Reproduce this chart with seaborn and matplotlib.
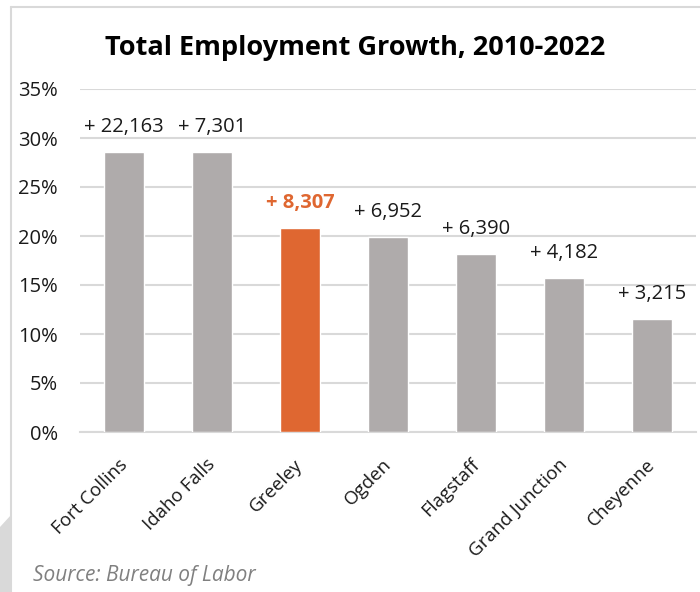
import matplotlib
matplotlib.use("Agg")
import matplotlib.pyplot as plt
import matplotlib.patches as mpatches
import matplotlib.lines as mlines
import matplotlib.transforms as mtransforms
import seaborn as sns
import pandas as pd

# Employment growth 2010-2022 by metro area
cities = ["Fort Collins", "Idaho Falls", "Greeley", "Ogden",
          "Flagstaff", "Grand Junction", "Cheyenne"]
growth_pct = [0.286, 0.286, 0.208, 0.199, 0.182, 0.157, 0.115]
jobs_added = [22163, 7301, 8307, 6952, 6390, 4182, 3215]
highlight = "Greeley"

GRAY = "#AFABAB"
ORANGE = "#DF6731"
GRID = "#D9D9D9"
FONT = "Open Sans"

df = pd.DataFrame({"city": cities, "growth": growth_pct, "jobs": jobs_added})
palette = {c: (ORANGE if c == highlight else GRAY) for c in cities}

sns.set_theme(style="white")
plt.rcParams["font.family"] = [FONT, "DejaVu Sans"]

fig = plt.figure(figsize=(7.0, 5.92), dpi=100)
ax = fig.add_axes([80 / 700, 1 - 432 / 592, 616 / 700, 343 / 592])

sns.barplot(data=df, x="city", y="growth", hue="city", palette=palette,
            legend=False, width=0.455, saturation=1, ax=ax, zorder=3)

ax.set_ylim(0, 0.35)
ax.set_xlim(-0.5, len(cities) - 0.5)
ax.set_yticks([i * 0.05 for i in range(8)])
ax.set_yticklabels([f"{i * 5}%" for i in range(8)])
ax.yaxis.grid(True, color=GRID, linewidth=1.5, zorder=0)
ax.set_axisbelow(True)
for s in ["top", "right", "left"]:
    ax.spines[s].set_visible(False)
ax.spines["bottom"].set_color(GRID)
ax.spines["bottom"].set_linewidth(1.5)
ax.set_xlabel("")
ax.set_ylabel("")
ax.tick_params(axis="y", length=0, pad=16, labelsize=14.5, labelcolor="#1a1a1a")
ax.tick_params(axis="x", length=0, pad=17, labelsize=13.5, labelcolor="#1a1a1a")

offset = mtransforms.ScaledTranslation(-6 / 100, 0, fig.dpi_scale_trans)
for lbl in ax.get_xticklabels():
    lbl.set_rotation(45)
    lbl.set_ha("right")
    lbl.set_va("top")
    lbl.set_rotation_mode("anchor")
    lbl.set_transform(lbl.get_transform() + offset)

# job-count labels above each bar
for i, (c, g, j) in enumerate(zip(cities, growth_pct, jobs_added)):
    hl = c == highlight
    ax.annotate(f"+ {j:,}", xy=(i, g), xytext=(0, 18), textcoords="offset points",
                ha="center", va="center", fontsize=14.5,
                color=ORANGE if hl else "#1a1a1a",
                fontweight="bold" if hl else "normal")

fig.text(355 / 700, 1 - 48 / 592, "Total Employment Growth, 2010-2022",
         ha="center", va="center", fontsize=19.5, fontweight="bold", color="black")
fig.text(33 / 700, 1 - 575 / 592, "Source: Bureau of Labor", ha="left", va="center",
         fontsize=15, style="italic", color="#808080")

# panel frame and corner tab
fig.add_artist(mlines.Line2D([11 / 700, 11 / 700], [0, 1 - 7 / 592],
                             transform=fig.transFigure, color=GRID, linewidth=1.5))
fig.add_artist(mlines.Line2D([11 / 700, 1], [1 - 7 / 592, 1 - 7 / 592],
                             transform=fig.transFigure, color=GRID, linewidth=1.5))
fig.add_artist(mpatches.Polygon([(0, 1 - 527 / 592), (11 / 700, 1 - 515 / 592),
                                 (11 / 700, 0), (0, 0)], closed=True,
                                transform=fig.transFigure, facecolor="#D9D9D9",
                                edgecolor="none"))

fig.savefig("out.png", dpi=100)
